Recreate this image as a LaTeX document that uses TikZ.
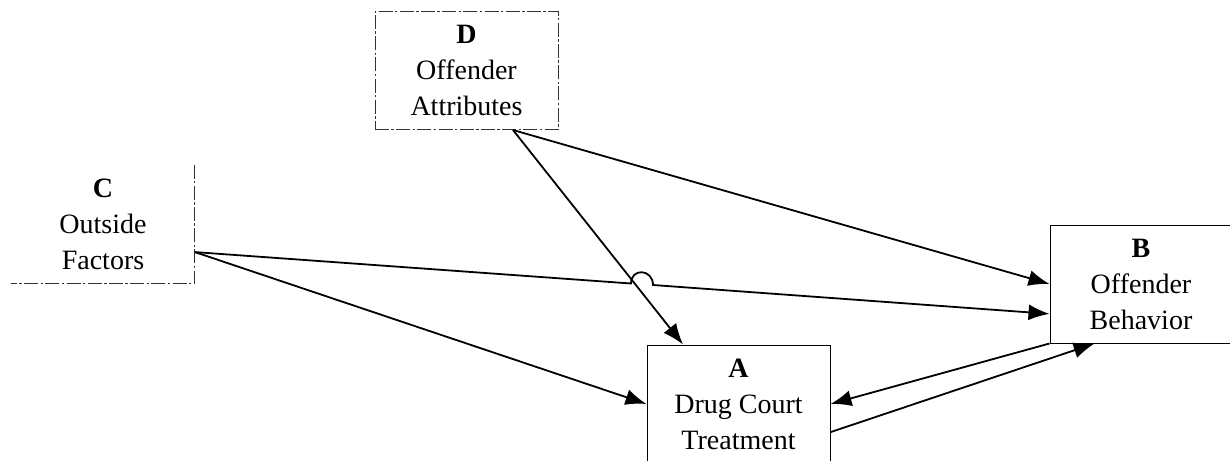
\documentclass[tikz,border=0pt]{standalone}
\usepackage{fontspec}
\setmainfont{Liberation Serif}
\usetikzlibrary{arrows.meta}

\begin{document}
\begin{tikzpicture}[x=0.5pt,y=-0.5pt,
  box/.style={minimum width=91.5pt,minimum height=59pt,inner sep=0pt,align=center,
    font=\fontsize{14}{18}\selectfont},
  rim/.style={draw=black!80,line width=0.5pt,dash pattern=on 7pt off 1.2pt on 1.2pt off 1.2pt},
  link/.style={-{Latex[length=10.5pt,width=8pt]},line width=0.9pt}]
  \useasboundingbox (0,0) rectangle (1230,460);
  % The four boxes (B and A run over the page edge, C has no left side)
  \node[box,rim] (D) at (466.5,70.5) {\textbf{D}\\Offender\\Attributes};
  \node[box] (C) at (103,224) {\textbf{C}\\Outside\\Factors};
  \node[box,draw,line width=0.5pt,minimum width=98pt] (B) at (1148,284) {};
  \node[box] (Btext) at (1141,284) {\textbf{B}\\Offender\\Behavior};
  \node[box,draw,line width=0.5pt] (A) at (738.5,404) {\textbf{A}\\Drug Court\\Treatment};
  \draw[rim] (C.north east) -- (C.south east) -- (C.south west);
  % Hop where C--B passes over D--A
  \coordinate (hopL) at (631,283.5);
  \coordinate (hopR) at (653,285);
  % Arrows
  \draw[link] (D.-52) -- (B.west |- Btext.west);
  \draw[link] (D.-52) -- (A.133);
  \draw[link] (C.-17) -- (hopL) .. controls +(0,-16) and +(0,-16) .. (hopR) -- (B.west |- Btext.198);
  \draw[link] (C.-17) -- (A.west);
  \draw[link] (B.south west) -- (A.east);
  \draw[link] (A.-17) -- (B.south west -| Btext.-128);
\end{tikzpicture}
\end{document}
